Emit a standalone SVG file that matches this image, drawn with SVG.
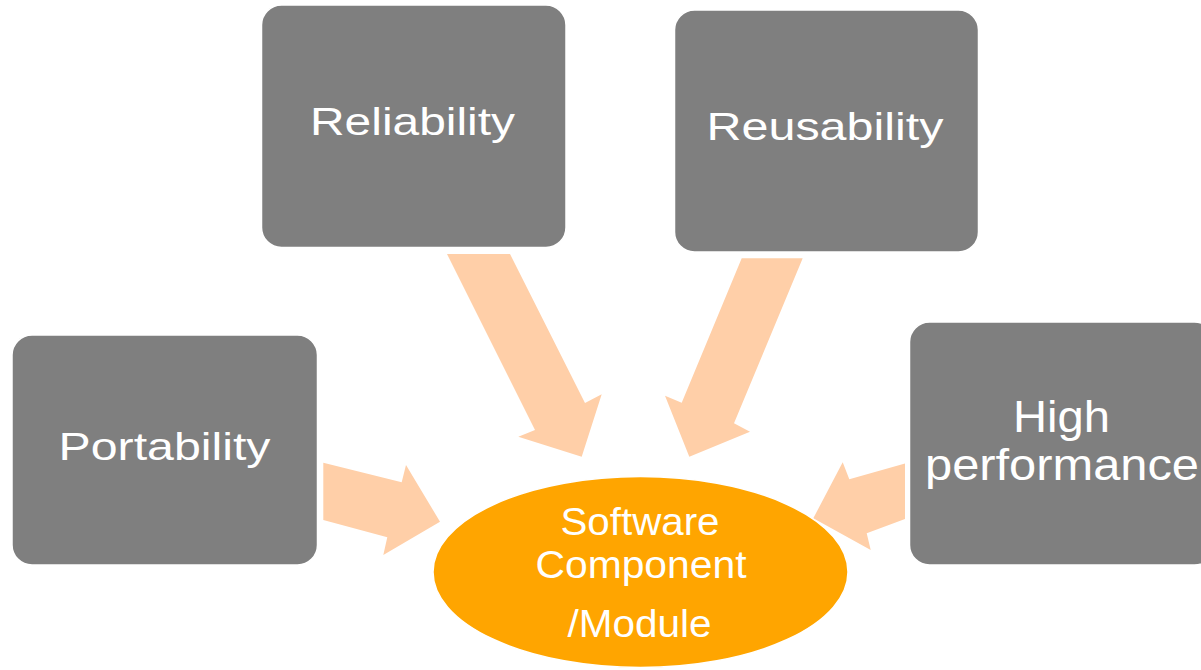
<svg xmlns="http://www.w3.org/2000/svg" width="1201" height="670" viewBox="0 0 1201 670">
<style>
.box{fill:#7F7F7F;stroke:#FFFFFF;stroke-width:1.5}
.lbl{fill:#FFFFFF;font-family:"Liberation Sans",Arial,sans-serif;text-anchor:middle;font-size:39px}
.arr{fill:#FFCFA8}
.core{fill:#FFA500;stroke:#FFFFFF;stroke-width:1.5}
</style>
<rect width="1201" height="670" fill="#FFFFFF"/>
<g id="connectors">
<polygon class="arr" points="447,254 510,254 585,403 601.7,394.3 581.7,456.7 518.3,436.7 535,430"/>
<polygon class="arr" points="741.7,258.3 802.7,258.3 734,423.3 750,431.7 689.3,456.7 665,395.7 681.7,402.7"/>
<polygon class="arr" points="323.3,462.7 401.7,482.3 406,465 440,521.7 383.3,555 387.3,537.3 323.3,520"/>
<polygon class="arr" points="905,463.5 849.3,479.3 842.7,462.3 813.3,518.3 870.7,550 866.7,533.3 905,519"/>
</g>
<g id="reliability">
<rect class="box" x="261.5" y="5" width="304.5" height="242.5" rx="20"/>
<text class="lbl" x="412.5" y="134.5" textLength="205" lengthAdjust="spacingAndGlyphs">Reliability</text>
</g>
<g id="reusability">
<rect class="box" x="674.5" y="10" width="304" height="242" rx="20"/>
<text class="lbl" x="825" y="139.8" textLength="237" lengthAdjust="spacingAndGlyphs">Reusability</text>
</g>
<g id="portability">
<rect class="box" x="12" y="335" width="305.5" height="230" rx="20"/>
<text class="lbl" x="164.5" y="459.5" textLength="212" lengthAdjust="spacingAndGlyphs">Portability</text>
</g>
<g id="high-performance">
<rect class="box" x="909.5" y="322" width="305" height="243" rx="20"/>
<text class="lbl" x="1061.5" y="431.7" style="font-size:45px" textLength="97" lengthAdjust="spacingAndGlyphs">High</text>
<text class="lbl" x="1062" y="480" style="font-size:45px" textLength="274" lengthAdjust="spacingAndGlyphs">performance</text>
</g>
<g id="software-component">
<ellipse class="core" cx="640.5" cy="572" rx="207.5" ry="95.5"/>
<text class="lbl" x="640" y="535" textLength="159" lengthAdjust="spacingAndGlyphs">Software</text>
<text class="lbl" x="641" y="578.3" textLength="211" lengthAdjust="spacingAndGlyphs">Component</text>
<text class="lbl" x="639.5" y="636.7" textLength="144" lengthAdjust="spacingAndGlyphs">/Module</text>
</g>
</svg>
